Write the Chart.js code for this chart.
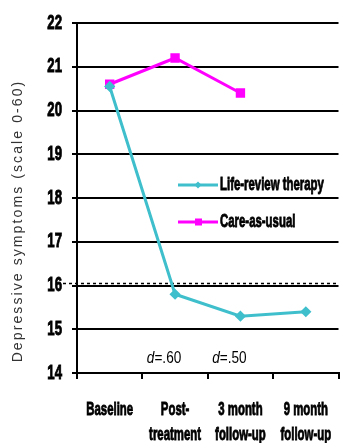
<!DOCTYPE html>
<html lang="en">
<head>
  <meta charset="UTF-8">
  <title>Depressive symptoms</title>
  <script src="https://cdn.jsdelivr.net/npm/chart.js"></script>
  <style>
    body { margin: 0; background: #fff; }
    #wrap { width: 346px; height: 443px; }
  </style>
</head>
<body>
  <div id="wrap"><canvas id="c" width="346" height="443"></canvas></div>
  <script>
    const categories = ['Baseline', ['Post-', 'treatment'], ['3 month', 'follow-up'], ['9 month', 'follow-up']];
    const lifeReview = [20.55, 15.8, 15.3, 15.4];
    const careAsUsual = [20.6, 21.2, 20.4, null];
    const yTicks = [14, 15, 16, 17, 18, 19, 20, 21, 22];
    const cutoff = 16;
    const effectSizes = [null, '.60', '.50', null];
    const yTitle = 'Depressive symptoms (scale 0-60)';

    const CYAN = '#3fbfcc';
    const MAGENTA = '#ff00ff';
    const SANS = "'Liberation Sans', Arial, sans-serif";

    // squeezed heavy text, like the condensed font of the original
    function narrowText(ctx, text, x, y, size, squeeze, align) {
      ctx.save();
      ctx.translate(x, y);
      ctx.scale(squeeze, 1);
      ctx.font = 'bold ' + size + 'px ' + SANS;
      ctx.textAlign = align;
      ctx.textBaseline = 'middle';
      ctx.fillStyle = '#000';
      ctx.strokeStyle = '#000';
      ctx.lineWidth = 0.9;
      ctx.fillText(text, 0, 0);
      ctx.strokeText(text, 0, 0);
      ctx.restore();
    }

    const extras = {
      id: 'extras',
      beforeDatasetsDraw(chart) {
        const { ctx, chartArea: a, scales: { x, y } } = chart;
        // dashed cut-off line
        const py = y.getPixelForValue(cutoff) - 2;
        ctx.save();
        ctx.strokeStyle = '#000';
        ctx.lineWidth = 1.5;
        ctx.setLineDash([3, 3]);
        ctx.beginPath();
        ctx.moveTo(a.left - 14, py);
        ctx.lineTo(a.right, py);
        ctx.stroke();
        ctx.restore();

        // effect sizes
        effectSizes.forEach((d, i) => {
          if (!d) return;
          ctx.save();
          ctx.translate(x.getPixelForValue(i) - 11, y.getPixelForValue(14.32));
          ctx.scale(0.85, 1);
          ctx.fillStyle = '#000';
          ctx.textBaseline = 'middle';
          ctx.font = 'italic 16px ' + SANS;
          const w1 = ctx.measureText('d').width;
          ctx.font = '16px ' + SANS;
          const w2 = ctx.measureText('=' + d).width;
          const sx = -(w1 + w2) / 2;
          ctx.font = 'italic 16px ' + SANS;
          ctx.fillText('d', sx, 0);
          ctx.font = '16px ' + SANS;
          ctx.fillText('=' + d, sx + w1, 0);
          ctx.restore();
        });
      },
      afterDraw(chart) {
        const { ctx, chartArea: a, scales: { x, y } } = chart;

        // tick labels
        yTicks.forEach(v => {
          narrowText(ctx, String(v), a.left - 15, y.getPixelForValue(v), 20, 0.66, 'right');
        });
        categories.forEach((c, i) => {
          const lines = Array.isArray(c) ? c : [c];
          lines.forEach((t, j) => {
            narrowText(ctx, t, x.getPixelForValue(i), a.bottom + 37 + j * 25, 19, 0.6, 'center');
          });
        });

        // y axis title
        ctx.save();
        ctx.translate(18, 221);
        ctx.rotate(-Math.PI / 2);
        ctx.fillStyle = '#333';
        ctx.font = '14px ' + SANS;
        ctx.letterSpacing = '2.1px';
        ctx.textAlign = 'center';
        ctx.textBaseline = 'middle';
        ctx.fillText(yTitle, 0, 0);
        ctx.restore();

        // legend
        ctx.save();
        const lx = a.left + 101;
        const rows = [a.top + 162, a.top + 199];
        chart.data.datasets.forEach((ds, i) => {
          const ly = rows[i];
          ctx.strokeStyle = ds.borderColor;
          ctx.lineWidth = 3;
          ctx.beginPath();
          ctx.moveTo(lx, ly);
          ctx.lineTo(lx + 40, ly);
          ctx.stroke();
          ctx.fillStyle = ds.borderColor;
          if (ds.pointStyle === 'rect') {
            ctx.fillRect(lx + 17, ly - 3.5, 7, 7);
          } else {
            ctx.beginPath();
            ctx.moveTo(lx + 20, ly - 3.5);
            ctx.lineTo(lx + 23.5, ly);
            ctx.lineTo(lx + 20, ly + 3.5);
            ctx.lineTo(lx + 16.5, ly);
            ctx.closePath();
            ctx.fill();
          }
          narrowText(ctx, ds.label, lx + 42, ly, 19, 0.6, 'left');
        });
        ctx.restore();
      }
    };

    new Chart(document.getElementById('c'), {
      type: 'line',
      data: {
        labels: categories,
        datasets: [
          {
            label: 'Life-review therapy',
            data: lifeReview,
            borderColor: CYAN,
            backgroundColor: CYAN,
            borderWidth: 3,
            pointStyle: 'rectRot',
            pointRadius: 3.5,
            tension: 0
          },
          {
            label: 'Care-as-usual',
            data: careAsUsual,
            borderColor: MAGENTA,
            backgroundColor: MAGENTA,
            borderWidth: 3,
            pointStyle: 'rect',
            pointRadius: 4.5,
            tension: 0
          }
        ]
      },
      options: {
        responsive: false,
        animation: false,
        layout: { padding: { top: 23, right: 0, left: 0, bottom: 0 } },
        plugins: {
          legend: { display: false },
          tooltip: { enabled: false }
        },
        scales: {
          x: {
            offset: true,
            grid: { offset: true, drawOnChartArea: false, color: '#000', lineWidth: 2, tickLength: 6 },
            border: { color: '#000', width: 2 },
            ticks: { display: false, autoSkip: false, maxRotation: 0 },
            afterFit(s) { s.height = 70; }
          },
          y: {
            min: 14,
            max: 22,
            afterBuildTicks(s) { s.ticks = yTicks.map(v => ({ value: v })); },
            grid: { color: '#000', lineWidth: 2, tickLength: 5 },
            border: { color: '#000', width: 2 },
            ticks: { display: false },
            afterFit(s) { s.width = 77; }
          }
        }
      },
      plugins: [extras]
    });
  </script>
</body>
</html>
